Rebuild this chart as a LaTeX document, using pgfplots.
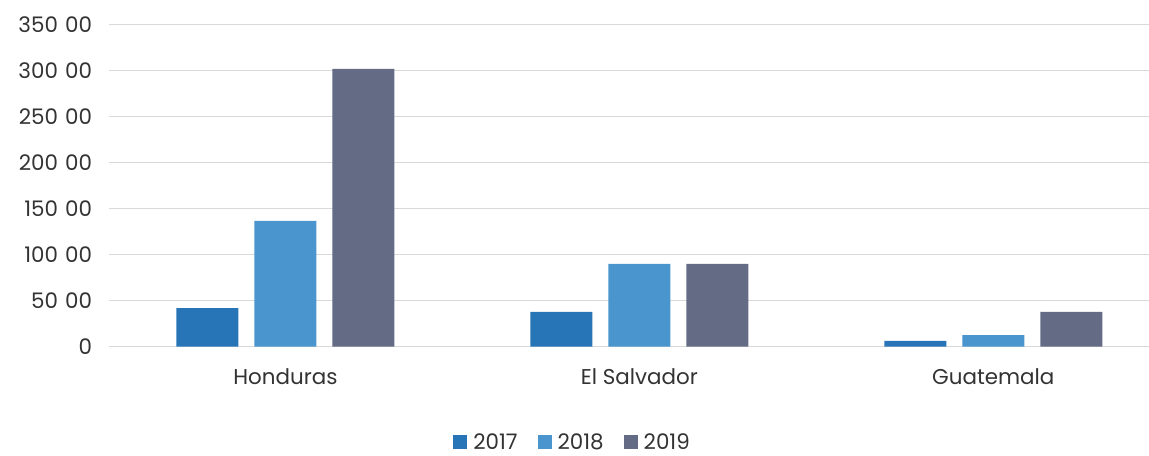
\documentclass[border=0pt]{standalone}
\usepackage{pgfplots}
\pgfplotsset{compat=1.18}
\usepackage{fontspec}
\setmainfont{Poppins}

\definecolor{c17}{HTML}{2775B6}
\definecolor{c18}{HTML}{4A95CD}
\definecolor{c19}{HTML}{646B84}
\definecolor{txt}{HTML}{333333}
\definecolor{gridc}{HTML}{D9D9D9}
\newcommand{\gap}{\hspace{0.33em}}

\begin{document}
\begin{tikzpicture}
\begin{axis}[
    at={(108.5bp,109.3bp)}, anchor=south west,
    width=1040.5bp, height=322.4bp, scale only axis,
    ybar=16bp, bar width=62bp,
    xmin=-0.5, xmax=2.44,
    ymin=0, ymax=350,
    xtick={0,1,2},
    xticklabels={Honduras, El Salvador, Guatemala},
    ytick={0,50,100,150,200,250,300,350},
    yticklabels={0,50\gap00,100\gap00,150\gap00,200\gap00,250\gap00,300\gap00,350\gap00},
    major tick length=0,
    axis line style={draw=none},
    ymajorgrids,
    grid style={gridc, line width=1.3bp},
    tick label style={font=\fontsize{21.5}{25}\selectfont, text=txt},
    yticklabel style={xshift=-13bp},
    xticklabel style={yshift=-18bp},
    legend style={at={(0.446,-0.296)}, anchor=center, draw=none,
        font=\fontsize{21.5}{25}\selectfont, text=txt,
        legend columns=3,
        /tikz/every odd column/.append style={column sep=4bp},
        /tikz/every even column/.append style={column sep=18bp}},
    legend image code/.code={\fill[#1] (0bp,-7bp) rectangle (14bp,7bp);},
    every axis plot/.append style={draw=none},
]
\addplot[fill=c17] coordinates {(0,42.0) (1,37.7) (2,6.2)};
\addplot[fill=c18] coordinates {(0,136.5) (1,89.8) (2,12.7)};
\addplot[fill=c19] coordinates {(0,301.5) (1,90.0) (2,37.7)};
\legend{2017,2018,2019}
\end{axis}
\pgfresetboundingbox
\path[use as bounding box] (0,0) rectangle (1149bp,456bp);
\end{tikzpicture}
\end{document}
